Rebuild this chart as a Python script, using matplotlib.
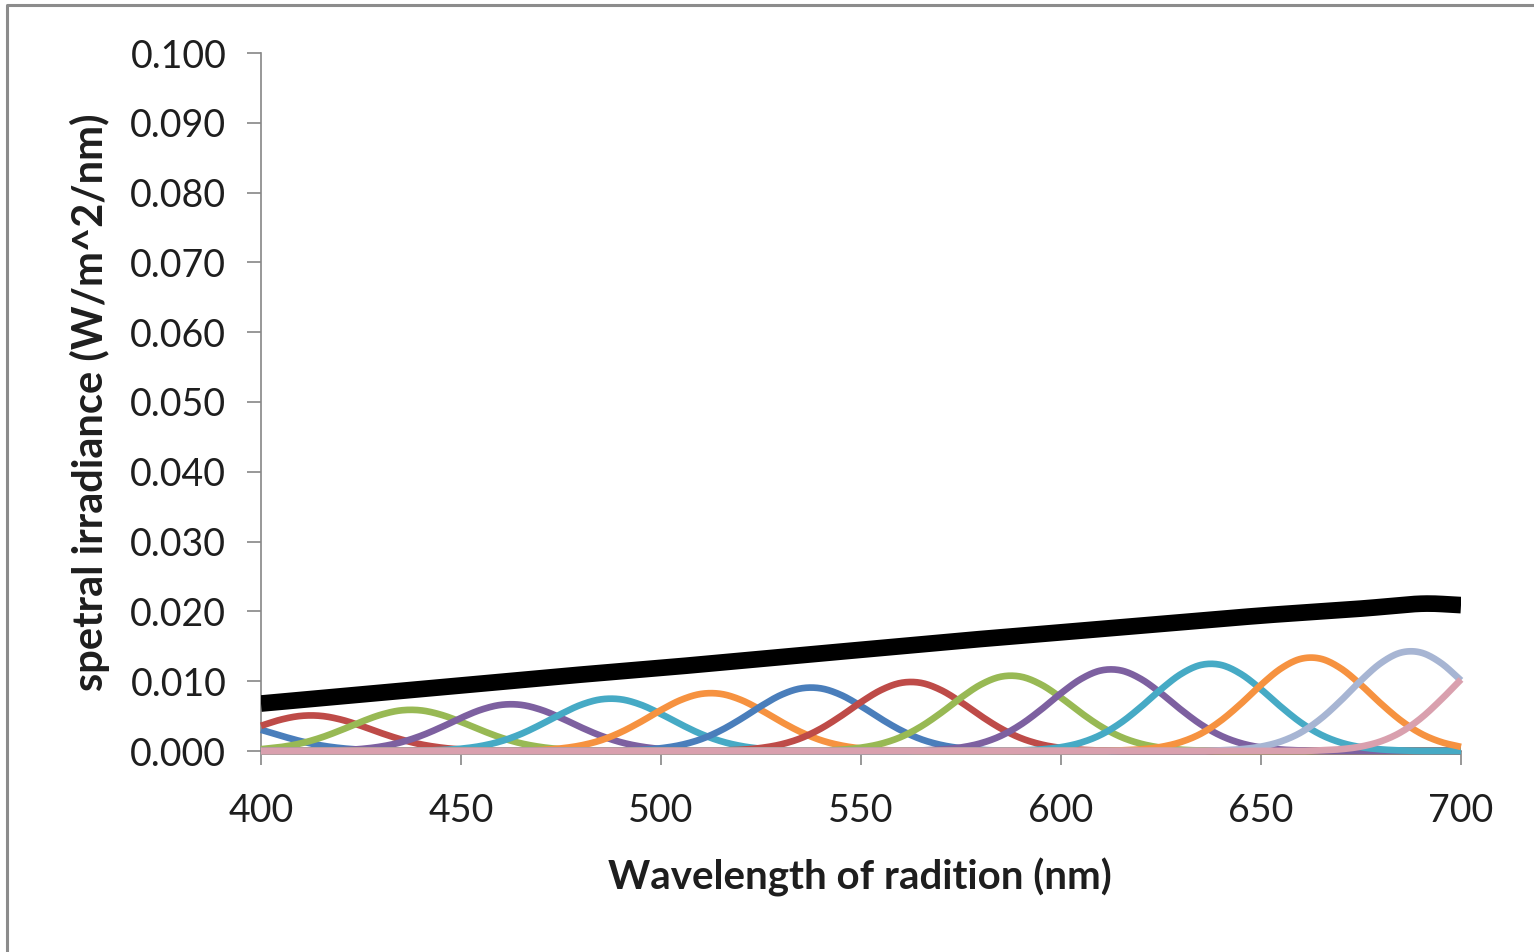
import matplotlib

matplotlib.use("Agg")

import matplotlib.pyplot as plt  # noqa: E402
from matplotlib.lines import Line2D  # noqa: E402
import numpy as np  # noqa: E402

# band curves are sampled every 5 nm; outside the listed span a band sits at 0
GRID_START, GRID_STOP, GRID_STEP = 400, 700, 5

BAND_STARTS = [400, 400, 400, 415, 440, 465, 490, 515, 540, 565, 590, 615, 640, 665]
BAND_VALUES = [
    [0.00304, 0.00218, 0.00140, 0.00080, 0.00041, 0.00019, 0.00008, 0.00003],
    [0.00361, 0.00450, 0.00503, 0.00503, 0.00450, 0.00361, 0.00258, 0.00166, 0.00095,
     0.00049, 0.00022, 0.00009, 0.00003],
    [0.00026, 0.00057, 0.00110, 0.00192, 0.00299, 0.00417, 0.00520, 0.00582, 0.00582,
     0.00520, 0.00417, 0.00299, 0.00192, 0.00110, 0.00057, 0.00026, 0.00011, 0.00004],
    [0.00004, 0.00012, 0.00029, 0.00064, 0.00125, 0.00218, 0.00339, 0.00474, 0.00591, 0.00661,
     0.00661, 0.00591, 0.00474, 0.00339, 0.00218, 0.00125, 0.00064, 0.00029, 0.00012, 0.00004],
    [0.00005, 0.00014, 0.00033, 0.00072, 0.00140, 0.00244, 0.00380, 0.00530, 0.00662, 0.00740,
     0.00740, 0.00662, 0.00530, 0.00380, 0.00244, 0.00140, 0.00072, 0.00033, 0.00014, 0.00005],
    [0.00006, 0.00015, 0.00037, 0.00080, 0.00154, 0.00270, 0.00420, 0.00587, 0.00732, 0.00818,
     0.00818, 0.00732, 0.00587, 0.00420, 0.00270, 0.00154, 0.00080, 0.00037, 0.00015, 0.00006],
    [0.00006, 0.00016, 0.00040, 0.00087, 0.00169, 0.00296, 0.00460, 0.00643, 0.00803, 0.00897,
     0.00897, 0.00803, 0.00643, 0.00460, 0.00296, 0.00169, 0.00087, 0.00040, 0.00016, 0.00006],
    [0.00007, 0.00018, 0.00044, 0.00095, 0.00184, 0.00322, 0.00501, 0.00700, 0.00873, 0.00976,
     0.00976, 0.00873, 0.00700, 0.00501, 0.00322, 0.00184, 0.00095, 0.00044, 0.00018, 0.00007],
    [0.00007, 0.00019, 0.00048, 0.00104, 0.00201, 0.00351, 0.00546, 0.00764, 0.00953, 0.01065,
     0.01065, 0.00953, 0.00764, 0.00546, 0.00351, 0.00201, 0.00104, 0.00048, 0.00019, 0.00007],
    [0.00008, 0.00021, 0.00051, 0.00112, 0.00218, 0.00380, 0.00592, 0.00827, 0.01032, 0.01154,
     0.01154, 0.01032, 0.00827, 0.00592, 0.00380, 0.00218, 0.00112, 0.00051, 0.00021, 0.00008],
    [0.00008, 0.00023, 0.00055, 0.00120, 0.00233, 0.00406, 0.00633, 0.00884, 0.01103, 0.01233,
     0.01233, 0.01103, 0.00884, 0.00633, 0.00406, 0.00233, 0.00120, 0.00055, 0.00023, 0.00008],
    [0.00009, 0.00024, 0.00059, 0.00129, 0.00249, 0.00436, 0.00678, 0.00947, 0.01182, 0.01321,
     0.01321, 0.01182, 0.00947, 0.00678, 0.00436, 0.00249, 0.00129, 0.00059],
    [0.00010, 0.00026, 0.00063, 0.00137, 0.00266, 0.00465, 0.00724, 0.01011, 0.01261, 0.01410,
     0.01410, 0.01261, 0.01011],
    [0.00010, 0.00026, 0.00064, 0.00139, 0.00270, 0.00471, 0.00734, 0.01025],
]
BAND_COLORS = [
    "#4A7EBB", "#BE4B48", "#98B954", "#7D60A0", "#46AAC5", "#F69240",
    "#4A7EBB", "#BE4B48", "#98B954", "#7D60A0", "#46AAC5", "#F69240",
    "#A7B5D3", "#D9A0AE",
]

TOTAL_NM = [400, 425, 450, 475, 500, 525, 550, 575, 600, 625, 650, 675, 690, 700]
TOTAL_IRR = [0.0068, 0.0081, 0.0094, 0.0107, 0.0119, 0.0132, 0.0145, 0.0158,
             0.0170, 0.0182, 0.0194, 0.0204, 0.0211, 0.0209]

Y_TICKS = [0.000, 0.010, 0.020, 0.030, 0.040, 0.050, 0.060, 0.070, 0.080, 0.090, 0.100]
X_TICKS = [400, 450, 500, 550, 600, 650, 700]

FONT = ["Lato", "DejaVu Sans"]
TEXT = "#1e1e1e"
AXIS_GREY = "#868686"


def smooth(x, y, n=16):
    """Excel-style smoothed line: Catmull-Rom through the sample points."""
    p = np.column_stack([np.asarray(x, float), np.asarray(y, float)])
    pad = np.vstack([2 * p[0] - p[1], p, 2 * p[-1] - p[-2]])
    t = np.linspace(0.0, 1.0, n, endpoint=False)[:, None]
    h00 = 2 * t**3 - 3 * t**2 + 1
    h10 = t**3 - 2 * t**2 + t
    h01 = -2 * t**3 + 3 * t**2
    h11 = t**3 - t**2
    out = []
    for i in range(len(p) - 1):
        m0 = (pad[i + 2] - pad[i]) / 2
        m1 = (pad[i + 3] - pad[i + 1]) / 2
        out.append(h00 * p[i] + h10 * m0 + h01 * p[i + 1] + h11 * m1)
    out.append(p[-1:])
    seg = np.vstack(out)
    return seg[:, 0], seg[:, 1]


grid = np.arange(GRID_START, GRID_STOP + GRID_STEP, GRID_STEP)

fig = plt.figure(figsize=(15.34, 9.52), dpi=100)
ax = fig.add_axes([261 / 1534, 1 - 751 / 952, 1200 / 1534, 698 / 952])

for start, vals, color in zip(BAND_STARTS, BAND_VALUES, BAND_COLORS):
    y = np.zeros(grid.size)
    i0 = (start - GRID_START) // GRID_STEP
    y[i0:i0 + len(vals)] = vals
    sx, sy = smooth(grid, y)
    ax.plot(sx, sy, color=color, lw=4.8, solid_capstyle="butt", clip_on=False, zorder=3)

tx, ty = smooth(TOTAL_NM, TOTAL_IRR)
ax.plot(tx, ty, color="black", lw=12, solid_capstyle="butt", zorder=4)

ax.set_xlim(400, 700)
ax.set_ylim(0, 0.1)
ax.set_xticks(X_TICKS)
ax.set_yticks(Y_TICKS)
ax.set_yticklabels([f"{v:.3f}" for v in Y_TICKS])

for side in ("top", "right"):
    ax.spines[side].set_visible(False)
for side in ("left", "bottom"):
    ax.spines[side].set_color(AXIS_GREY)
    ax.spines[side].set_linewidth(1.2)
ax.tick_params(axis="both", direction="out", length=10, width=1.2, color=AXIS_GREY,
               labelsize=27, labelcolor=TEXT)
ax.tick_params(axis="y", pad=15)
ax.tick_params(axis="x", pad=20)
for lab in ax.get_xticklabels() + ax.get_yticklabels():
    lab.set_family(FONT)

fig.text(860 / 1534, 1 - 877 / 952, "Wavelength of radition (nm)", ha="center", va="center",
         fontsize=29, fontweight="bold", family=FONT, color=TEXT)
fig.text(90 / 1534, 1 - 402 / 952, "spetral irradiance (W/m^2/nm)", ha="center", va="center",
         rotation=90, fontsize=30, fontweight="bold", family=FONT, color=TEXT)

# chart-area frame, only its left and top edges show in the crop
fig.add_artist(Line2D([7 / 1534, 7 / 1534, 1.0], [0.0, 1 - 5 / 952, 1 - 5 / 952],
                      transform=fig.transFigure, color="#8C8C8C", lw=2.2))

fig.savefig("out.png", dpi=100)
